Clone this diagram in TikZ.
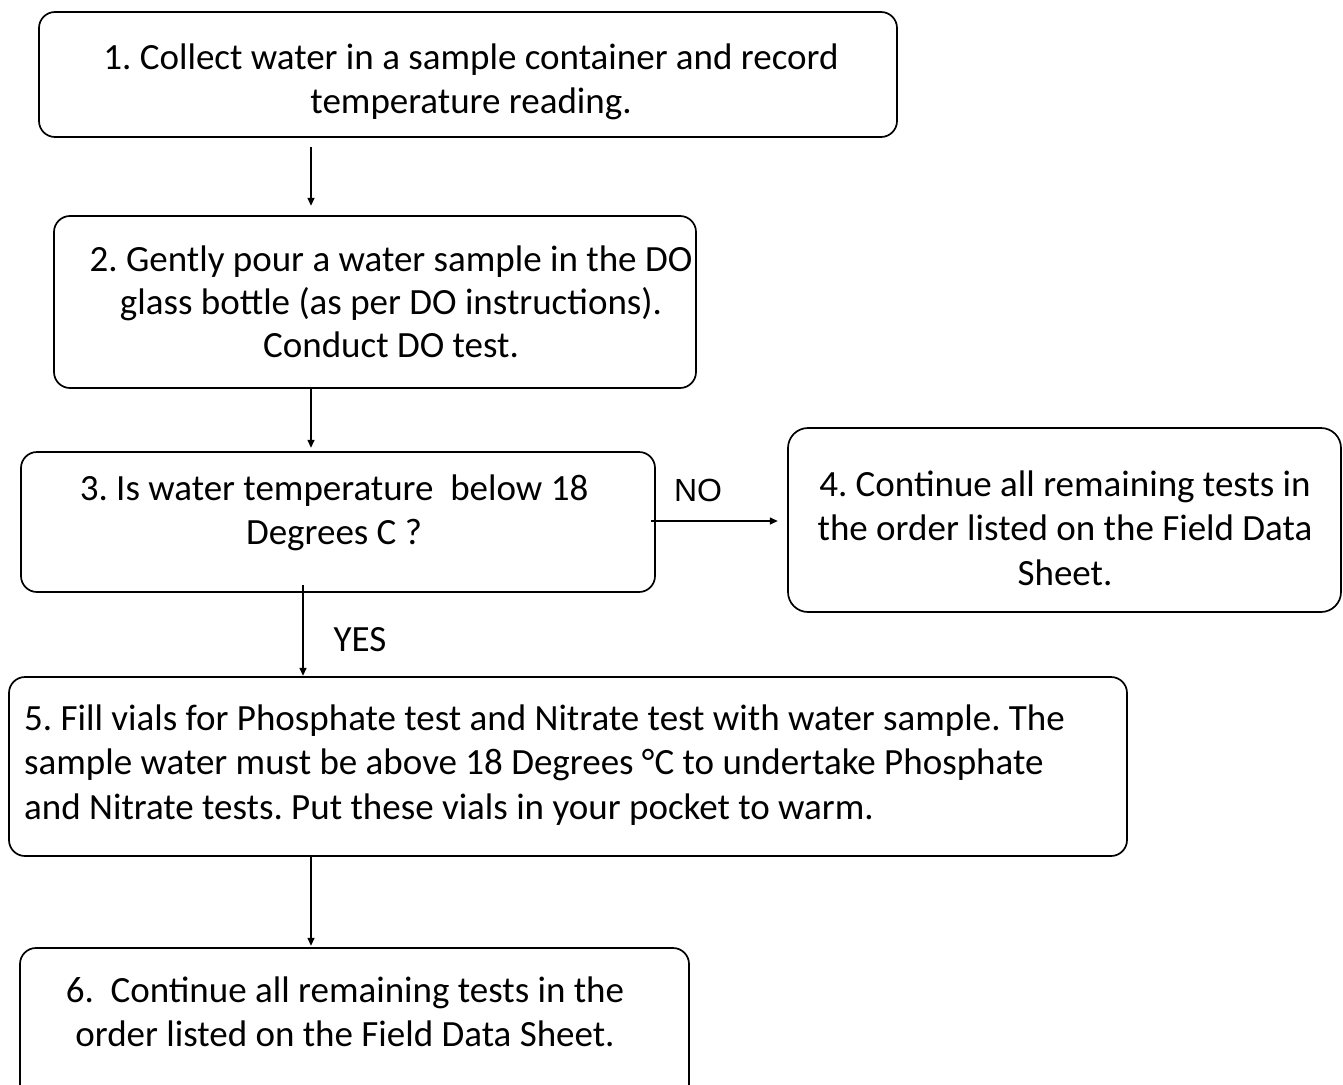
\documentclass[tikz,border=0pt]{standalone}
\usepackage{fontspec}
\setmainfont{Carlito}
\newfontfamily\arialfont{Liberation Sans}
\usetikzlibrary{arrows.meta}
\frenchspacing
\tikzset{
  box/.style={draw=black, line width=1.7pt, rounded corners=16pt},
  txt/.style={inner sep=0pt, align=center, font=\fontsize{37}{44.5}\selectfont},
  arr/.style={line width=1.4pt, -{Triangle[length=8pt,width=7pt]}},
  lbl/.style={inner sep=0pt, font=\fontsize{37}{44.5}\selectfont}
}
\begin{document}
\begin{tikzpicture}[x=1pt,y=-1pt]
\useasboundingbox (0,0) rectangle (1343,1084);
\begin{scope}
\clip (0,0) rectangle (1343,1084);
% boxes
\draw[box] (39,12) rectangle (897,137);
\draw[box] (54,216) rectangle (696,388);
\draw[box] (21,452) rectangle (655,592);
\draw[box, rounded corners=20pt] (788,428) rectangle (1341,612);
\draw[box] (9,677) rectangle (1127,856);
\draw[box] (20,948) rectangle (689,1100);
\end{scope}
\node[draw=none, minimum width=858pt, minimum height=125pt, inner sep=0pt] (b1) at (468,74.5) {};
\node[draw=none, minimum width=642pt, minimum height=172pt, inner sep=0pt] (b2) at (375,302) {};
\node[draw=none, minimum width=634pt, minimum height=140pt, inner sep=0pt] (b3) at (338,522) {};
\node[draw=none, minimum width=553pt, minimum height=184pt, inner sep=0pt] (b4) at (1064.5,520) {};
\node[draw=none, minimum width=1118pt, minimum height=179pt, inner sep=0pt] (b5) at (568,766.5) {};
\node[draw=none, minimum width=669pt, minimum height=152pt, inner sep=0pt] (b6) at (354.5,1024) {};
% texts
\node[txt] (t1) at (471,82) {1. Collect water in a sample container and record\\temperature reading.};
\node[txt, font=\fontsize{37}{43}\selectfont] (t2) at (391,302) {2. Gently pour a water sample in the DO\\glass bottle (as per DO instructions).\\Conduct DO test.};
\node[txt] (t3) at (334,513) {3. Is water temperature \ below 18\\Degrees C ?};
\node[txt] (t4) at (1065,528) {4. Continue all remaining tests in\\the order listed on the Field Data\\Sheet.};
\node[txt, align=left, anchor=west] (t5) at (24,765) {5. Fill vials for Phosphate test and Nitrate test with water sample. The\\sample water must be above 18 Degrees °C to undertake Phosphate\\and Nitrate tests. Put these vials in your pocket to warm.};
\node[txt] (t6) at (345,1012) {6. \ Continue all remaining tests in the\\order listed on the Field Data Sheet.};
% labels
\node[lbl, font=\arialfont\fontsize{32}{38}\selectfont] (no) at (698,490) {NO};
\node[lbl] (yes) at (360,640) {YES};
% connectors
\coordinate (xa) at (311,0);
\coordinate (xy) at (303,0);
\coordinate (yn) at (0,521);
\draw[arr, shorten <=10pt, shorten >=10pt] (b1.south -| xa) -- (b2.north -| xa);
\draw[arr, shorten >=4pt] (b2.south -| xa) -- (b3.north -| xa);
\draw[arr, shorten <=-7pt, shorten >=1pt] (b3.south -| xy) -- (b5.north -| xy);
\draw[arr, shorten >=2pt] (b5.south -| xa) -- (b6.north -| xa);
\draw[arr, shorten <=-4pt, shorten >=10pt] (b3.east |- yn) -- (b4.west |- yn);
\end{tikzpicture}
\end{document}
